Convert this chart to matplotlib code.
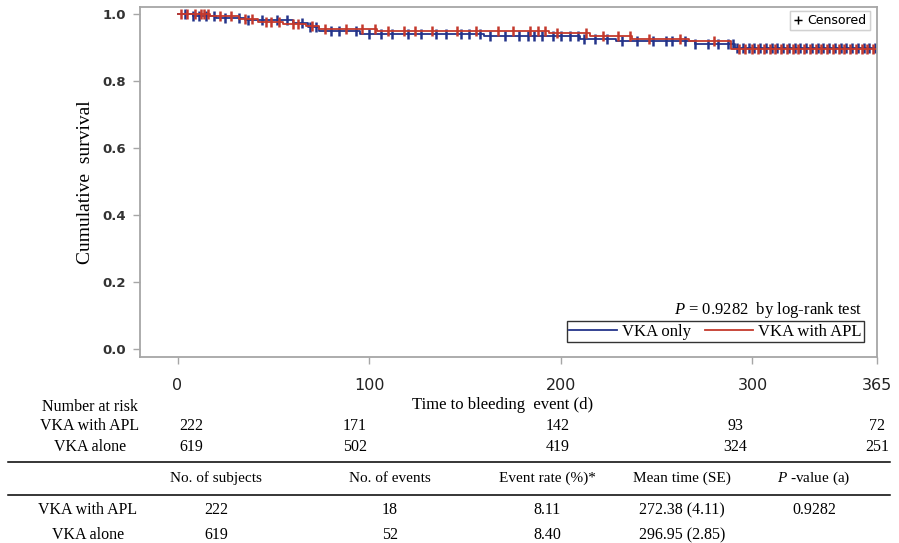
import numpy as np
import matplotlib
matplotlib.use("Agg")
import matplotlib.pyplot as plt
from matplotlib.lines import Line2D

plt.rcParams["mathtext.fontset"] = "custom"
plt.rcParams["mathtext.rm"] = "Liberation Serif"
plt.rcParams["mathtext.it"] = "Liberation Serif:italic"

# ---------------- data ----------------
apl_times = [0, 17, 32, 42, 55, 67, 74, 104, 194, 215, 237, 267, 289, 365]
apl_surv = [1.0, 0.993, 0.985, 0.977, 0.970, 0.963, 0.955, 0.950, 0.944, 0.933, 0.926, 0.918, 0.897, 0.897]

only_times = [0, 8, 20, 35, 60, 68, 74, 95, 160, 210, 229, 270, 291, 365]
only_surv = [1.0, 0.995, 0.988, 0.982, 0.972, 0.962, 0.948, 0.940, 0.934, 0.926, 0.918, 0.911, 0.900, 0.900]

apl_cens = [2, 5, 9, 12, 14, 16, 22, 28, 35, 39, 46, 49, 53, 60, 63, 70, 77, 88, 96,
            103, 110, 118, 124, 133, 146, 156, 167, 175, 184, 188, 192, 198, 213, 222,
            230, 236, 246, 262, 280, 293, 296, 300, 303, 306, 309, 312, 315, 318, 321,
            324, 327, 330, 333, 336, 339, 342, 345, 348, 351, 354, 357, 360, 363]
only_cens = [4, 8, 11, 15, 19, 25, 32, 37, 44, 52, 57, 65, 69, 72, 80, 84, 93, 100,
             106, 112, 120, 127, 135, 140, 148, 152, 158, 163, 171, 178, 183, 186, 190,
             196, 200, 205, 209, 212, 218, 224, 232, 240, 248, 255, 258, 265, 270, 277,
             282, 287, 290, 292, 295, 298, 301, 304, 307, 310, 313, 316, 319, 322, 325,
             328, 331, 334, 337, 340, 343, 346, 349, 352, 355, 358, 361, 364]

x_ticks = [0, 100, 200, 300, 365]
y_ticks = [0.0, 0.2, 0.4, 0.6, 0.8, 1.0]

risk_groups = ["VKA with APL", "VKA alone"]
risk_apl = ["222", "171", "142", "93", "72"]
risk_alone = ["619", "502", "419", "324", "251"]

table_header = ["No. of subjects", "No. of events", "Event rate (%)*", "Mean time (SE)", "-value (a)"]
table_apl = ["222", "18", "8.11", "272.38 (4.11)", "0.9282"]
table_alone = ["619", "52", "8.40", "296.95 (2.85)", ""]

BLUE = "#24348a"
RED = "#c4392c"
GRAY = "#a6a6a6"
SERIF = "Liberation Serif"

W, H = 899, 543
fig = plt.figure(figsize=(W / 100, H / 100), dpi=100)

def fx(px):
    return px / W

def fy(py):
    return 1 - py / H

ax = fig.add_axes([fx(140), fy(357), fx(877) - fx(140), fy(7) - fy(357)])
ax.set_xlim(-19.6, 365)
ax.set_ylim(-0.024, 1.021)


def step_value(times, surv, t):
    idx = np.searchsorted(np.asarray(times), t, side="right") - 1
    return np.asarray(surv)[idx]

for times, surv, cens, col in [(only_times, only_surv, only_cens, BLUE),
                               (apl_times, apl_surv, apl_cens, RED)]:
    ax.step(times, surv, where="post", color=col, lw=1.3)
    cy = step_value(times, surv, np.asarray(cens))
    ax.plot(cens, cy, ls="none", marker="|", ms=6.5, mew=1.8, color=col)

for s in ax.spines.values():
    s.set_color(GRAY)
    s.set_linewidth(1.3)
ax.set_xticks(x_ticks)
ax.set_yticks(y_ticks)
ax.set_yticklabels([f"{v:.1f}" for v in y_ticks])
ax.tick_params(axis="both", color=GRAY, length=5, width=1.0)
ax.tick_params(axis="x", labelsize=11.5, pad=10)
ax.tick_params(axis="y", labelsize=9.5, pad=5)
for lab in ax.get_yticklabels():
    lab.set_fontweight("bold")
    lab.set_color("#333333")
for lab in ax.get_xticklabels():
    lab.set_color("#222222")

ax.set_ylabel("Cumulative  survival", family=SERIF, fontsize=14, labelpad=6)

# censored legend
cl = ax.legend(handles=[Line2D([], [], ls="none", marker="+", color="black", ms=6, mew=1)],
               labels=["Censored"], loc="upper right", bbox_to_anchor=(fx(870), fy(11)),
               bbox_transform=fig.transFigure, frameon=True, fancybox=False,
               prop={"family": "DejaVu Sans", "size": 9}, handlelength=0.8,
               handletextpad=0.4, borderpad=0.25, borderaxespad=0)
cl.get_frame().set_edgecolor("#cccccc")
cl.get_frame().set_linewidth(1.0)
ax.add_artist(cl)

# group legend
lg = fig.legend(handles=[Line2D([], [], color=BLUE, lw=1.3), Line2D([], [], color=RED, lw=1.3)],
                labels=["VKA only", "VKA with APL"], ncol=2, loc="upper right",
                bbox_to_anchor=(fx(864), fy(321)), frameon=True, fancybox=False,
                prop={"family": SERIF, "size": 12}, handlelength=2.9, handletextpad=0.3,
                columnspacing=0.8, borderpad=0.15, borderaxespad=0)
lg.get_frame().set_edgecolor("black")
lg.get_frame().set_linewidth(1.0)

fig.text(fx(862), fy(310), r"$\mathit{P}$ = 0.9282  by log-rank test", ha="right", va="center",
         family=SERIF, fontsize=12)

# x label
fig.text(fx(503), fy(405), "Time to bleeding  event (d)", ha="center", va="center",
         family=SERIF, fontsize=12)

# number at risk
fig.text(fx(90), fy(407), "Number at risk", ha="center", va="center", family=SERIF, fontsize=11.5)
risk_x = [191, 355, 558, 735, 877]
for row_y, name, vals in [(426, risk_groups[0], risk_apl), (447, risk_groups[1], risk_alone)]:
    fig.text(fx(90), fy(row_y), name, ha="center", va="center", family=SERIF, fontsize=11.5)
    for xp, v in zip(risk_x, vals):
        fig.text(fx(xp), fy(row_y), v, ha="center", va="center", family=SERIF, fontsize=11.5)

# table
fig.add_artist(Line2D([fx(8), fx(890)], [fy(462), fy(462)], color="black", lw=1.1))
fig.add_artist(Line2D([fx(8), fx(890)], [fy(495), fy(495)], color="black", lw=1.1))
col_x = [216, 390, 547, 682, 814]
for xp, h in zip(col_x, table_header):
    if h.startswith("-value"):
        h = r"$\mathit{P}$ " + h
    fig.text(fx(xp), fy(478), h, ha="center", va="center", family=SERIF, fontsize=11)
for row_y, name, vals in [(510, risk_groups[0], table_apl), (535, risk_groups[1], table_alone)]:
    fig.text(fx(88), fy(row_y), name, ha="center", va="center", family=SERIF, fontsize=11.5)
    for xp, v in zip(col_x, vals):
        fig.text(fx(xp), fy(row_y), v, ha="center", va="center", family=SERIF, fontsize=11.5)

fig.savefig("out.png", dpi=100)
